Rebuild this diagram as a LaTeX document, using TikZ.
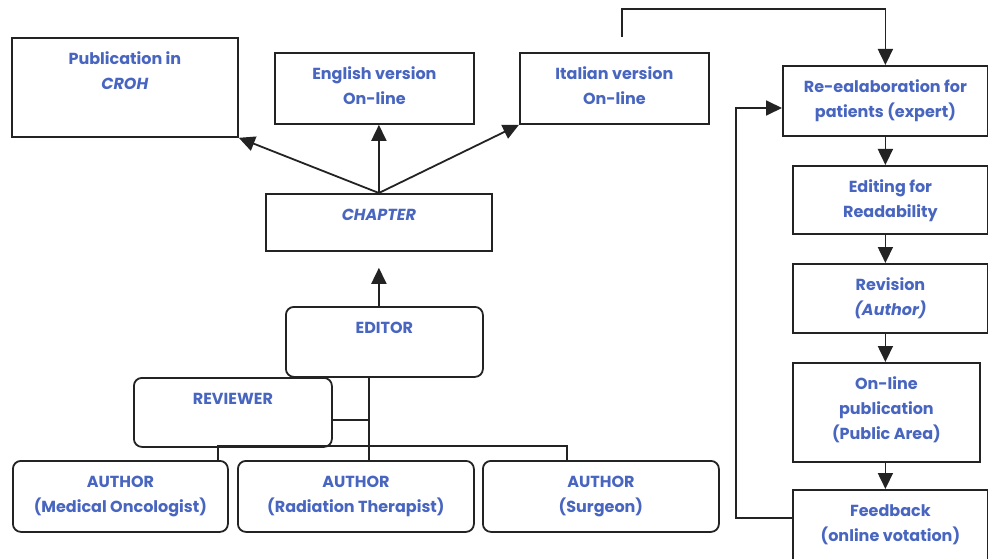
\documentclass[tikz,border=0pt]{standalone}
\usepackage{fontspec}
\setmainfont{Poppins}
\usetikzlibrary{arrows.meta}
\definecolor{labelblue}{RGB}{72,101,192}
\definecolor{edgegray}{RGB}{35,35,35}
% label block: width, height, lines (first baseline fixed below the top edge)
\newcommand\boxlabel[3]{\parbox[c][#2pt][t]{#1pt}{\centering\rule{0pt}{27pt}#3\par}}
\tikzset{
  plainbox/.style={draw=edgegray, line width=1.8pt, inner sep=0pt, anchor=north west,
    text=labelblue, font=\fontsize{16pt}{25pt}\selectfont\bfseries},
  roundbox/.style={plainbox, rounded corners=8pt},
  arr/.style={draw=edgegray, line width=1.8pt, -{Triangle[length=16pt,width=15pt]}},
  link/.style={draw=edgegray, line width=1.8pt},
}
\begin{document}
\begin{tikzpicture}[x=1pt,y=-1pt]
\useasboundingbox[fill=white] (0,0) rectangle (988,559);

% editorial side
\node[plainbox] (pub) at (11,37) {\boxlabel{226}{99}{Publication in\\\textit{CROH}}};
\node[plainbox] (eng) at (274,52) {\boxlabel{199}{71}{English version\\On-line}};
\node[plainbox] (ita) at (519,52) {\boxlabel{189}{71}{Italian version\\On-line}};
\node[plainbox] (chap) at (265,193) {\boxlabel{226}{57}{\textit{CHAPTER}}};
\node[roundbox] (edit) at (285,306) {\boxlabel{197}{70}{EDITOR}};
\node[roundbox] (rev) at (133,377) {\boxlabel{198}{69}{REVIEWER}};
\node[roundbox] (a1) at (12,460) {\boxlabel{215}{71}{AUTHOR\\(Medical Oncologist)}};
\node[roundbox] (a2) at (237,460) {\boxlabel{236}{71}{AUTHOR\\(Radiation Therapist)}};
\node[roundbox] (a3) at (482,460) {\boxlabel{236}{71}{AUTHOR\\(Surgeon)}};

% patient side
\node[plainbox] (re) at (782,65) {\boxlabel{205}{70}{Re-ealaboration for\\patients (expert)}};
\node[plainbox] (edt) at (792,165) {\boxlabel{195}{68}{Editing for\\Readability}};
\node[plainbox] (revn) at (792,263) {\boxlabel{195}{69}{Revision\\\textit{(Author)}}};
\node[plainbox] (onl) at (792,362) {\boxlabel{187}{99}{On-line\\publication\\(Public Area)}};
\node[plainbox] (fb) at (792,489) {\boxlabel{195}{75}{Feedback\\(online votation)}};

% chapter outputs
\draw[arr] (chap.north) -- (pub.south east);
\draw[arr] (chap.north) -- (chap.north |- eng.south);
\draw[arr] (chap.north) -- (ita.south west);
\draw[arr, shorten >=16pt] (chap.south |- edit.north) -- (chap.south);

% editor / reviewer / authors
\coordinate (trunk) at (369,376);
\coordinate (hub) at (369,420);
\coordinate (busL) at (218,446);
\coordinate (busR) at (567,446);
\draw[link] (trunk) -- (trunk |- a2.north);
\draw[link] (rev.east |- hub) -- (hub);
\draw[link] (a1.north -| busL) -- (busL) -- (busR) -- (a3.north -| busR);

% patient version pipeline
\coordinate (loopstart) at (622,37);
\coordinate (loopturn) at (622,9);
\draw[arr] (loopstart) -- (loopturn) -| (re.north);
\draw[arr] (re.south) -- (re.south |- edt.north);
\draw[arr] (re.south |- edt.south) -- (re.south |- revn.north);
\draw[arr] (re.south |- revn.south) -- (re.south |- onl.north);
\draw[arr] (re.south |- onl.south) -- (re.south |- fb.north);
\coordinate (backx) at (736,108);
\draw[arr] ([yshift=9.5pt]fb.west) -| (backx) -- (re.west |- backx);
\end{tikzpicture}
\end{document}
